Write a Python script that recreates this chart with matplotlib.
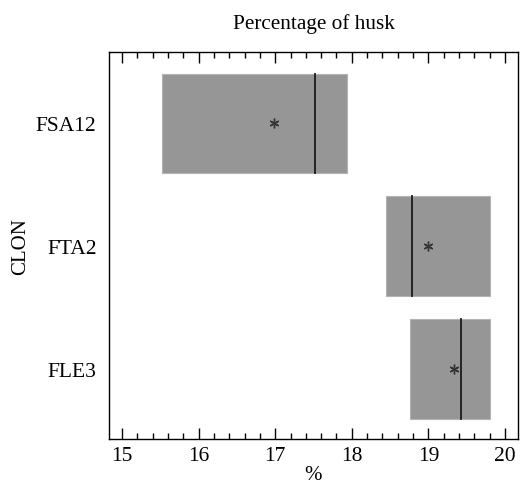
import numpy as np
import matplotlib.pyplot as plt
from matplotlib.patches import Rectangle
from matplotlib.ticker import MultipleLocator

# Data
clones = ['FLE3', 'FTA2', 'FSA12']
q1 = [18.76, 18.45, 15.52]
q3 = [19.80, 19.81, 17.94]
medians = [19.43, 18.79, 17.52]
means = [19.33, 19.00, 16.99]

plt.rcParams['font.family'] = ['Liberation Serif', 'DejaVu Serif']

f = plt.figure(figsize=(5.2, 4.85), dpi=100)
ax = f.add_axes([0.2096, 0.0928, 0.7865, 0.7979])

pos = np.arange(1, len(clones) + 1)
h = 0.81
for y, lo, hi, md, mn in zip(pos, q1, q3, medians, means):
    ax.add_patch(Rectangle((lo, y - h / 2), hi - lo, h, facecolor='#969696',
                           edgecolor='#b4b4b4', linewidth=0.8, zorder=2))
    ax.plot([md, md], [y - h / 2, y + h / 2], color='#1a1a1a', linewidth=1.3, zorder=3)
    ax.plot(mn, y, marker=(6, 2, 0), markersize=7, color='#333333',
            markeredgewidth=1.0, linestyle='none', zorder=4)

ax.set_xlim(14.83, 20.17)
ax.set_ylim(0.43, 3.58)
ax.set_yticks(pos)
ax.set_yticklabels(clones, fontsize=15.5)
ax.xaxis.set_major_locator(MultipleLocator(1))
ax.xaxis.set_minor_locator(MultipleLocator(0.2))
ax.tick_params(axis='x', which='major', direction='in', length=8, width=1,
               top=True, labelsize=15.5, pad=5)
ax.tick_params(axis='x', which='minor', direction='in', length=4, width=1, top=True)
ax.tick_params(axis='y', length=0, pad=9)
for s in ax.spines.values():
    s.set_linewidth(1)

ax.set_xlabel('%', fontsize=15, labelpad=0)
ax.set_ylabel('CLON', fontsize=15, labelpad=4)
ax.set_title('Percentage of husk', fontsize=15.3, pad=17)

plt.savefig('out.png', dpi=100)
